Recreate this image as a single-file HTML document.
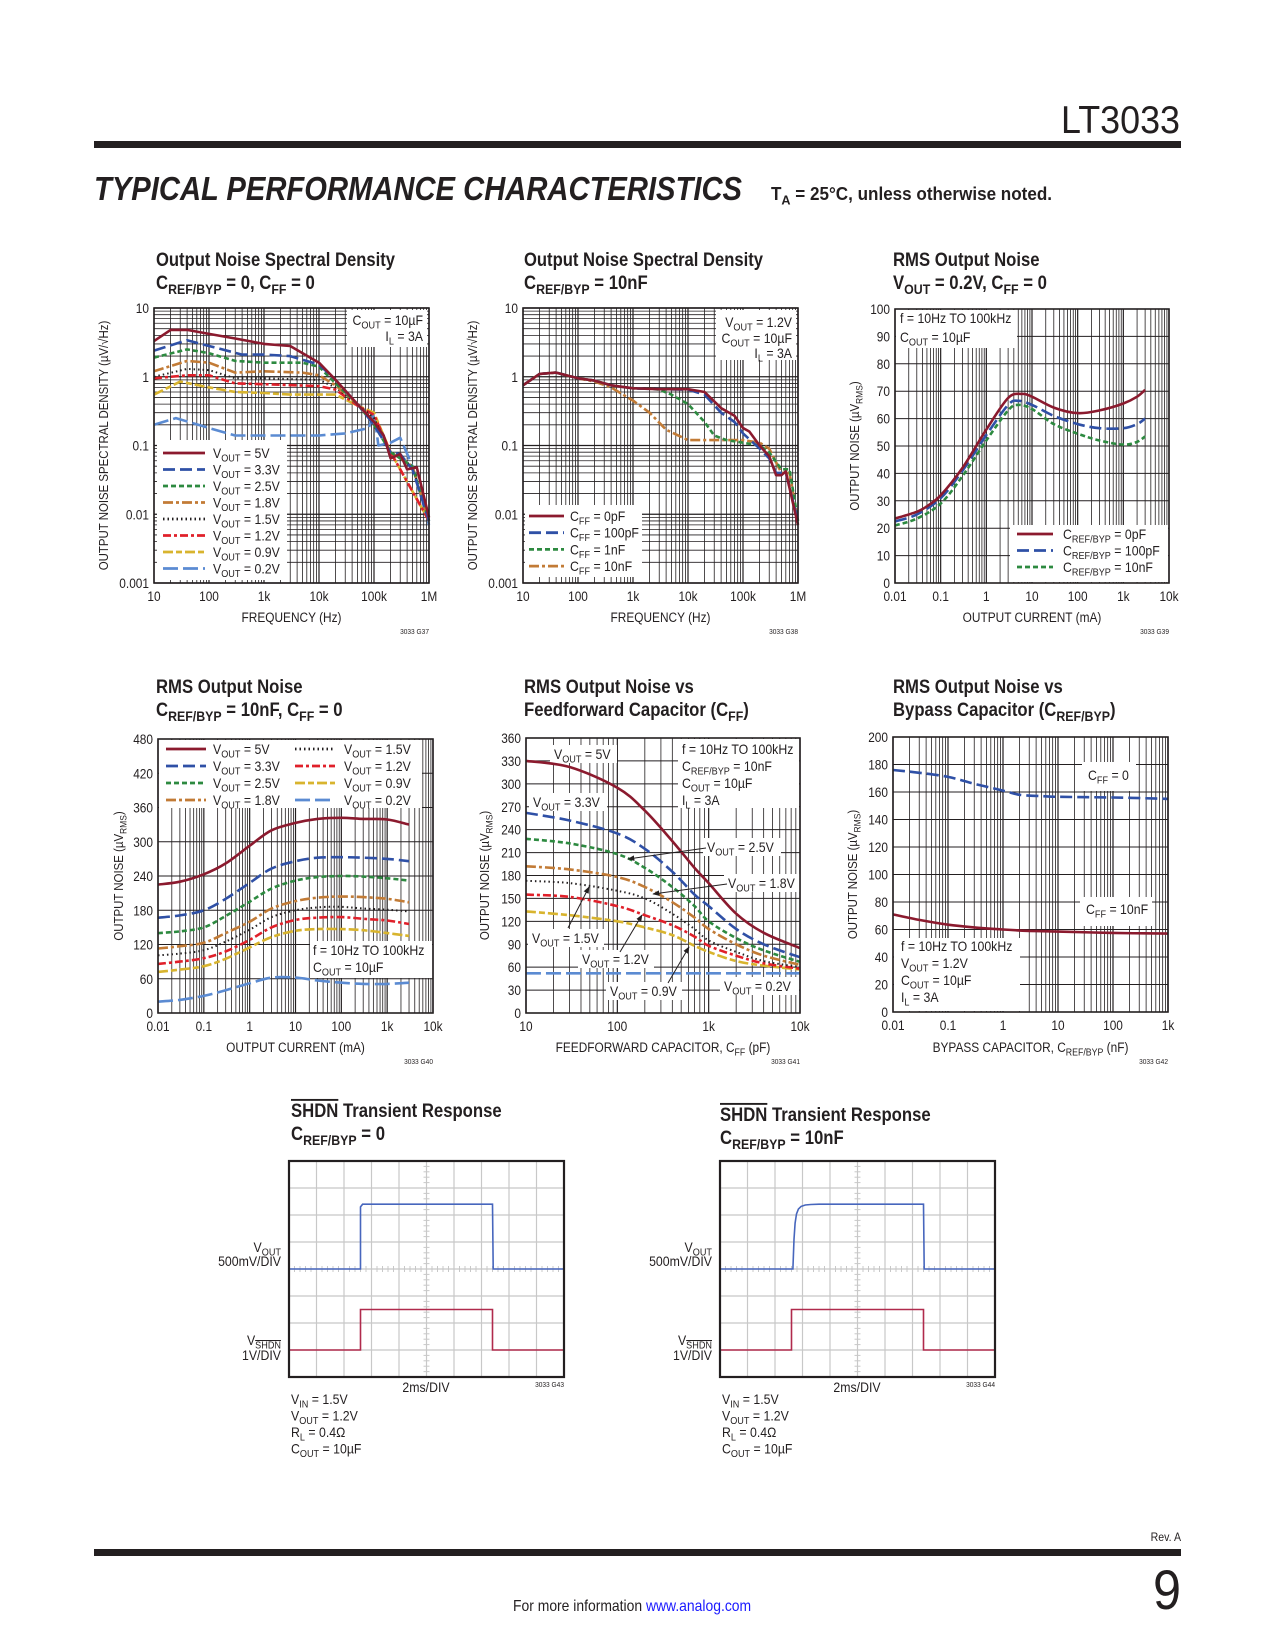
<!DOCTYPE html>
<html><head><meta charset="utf-8">
<style>
html,body{margin:0;padding:0;background:#fff;}
svg{display:block;}
</style></head>
<body>
<svg id="page" xmlns="http://www.w3.org/2000/svg" width="1275" height="1650" viewBox="0 0 1275 1650"></svg>
<script>
// ================= DATA =================
const c1Freq5 = [10,20,40,100,300,1000,3000,10000,20000,50000,100000,150000,200000,300000,400000,600000,1000000];
const c1Nsd5  = [3.3,4.8,4.8,4.2,3.6,3.0,2.8,1.6,0.9,0.4,0.22,0.14,0.065,0.075,0.045,0.048,0.009];
const c1Freq33 = [10,40,100,400,1000,3000,10000,20000,50000,100000,200000,300000,500000,1000000];
const c1Nsd33  = [2.4,3.4,2.8,2.1,2.1,2.0,1.5,0.9,0.4,0.2,0.08,0.075,0.045,0.008];
const c1Freq25 = [10,40,100,300,1000,5000,10000,20000,50000,100000,200000,500000,1000000];
const c1Nsd25  = [1.9,2.5,2.2,1.7,1.6,1.6,1.4,0.8,0.4,0.2,0.08,0.05,0.008];
const c1Freq18 = [10,40,100,300,1000,5000,10000,20000,50000,100000,200000,500000,1000000];
const c1Nsd18  = [1.2,1.7,1.6,1.15,1.2,1.15,1.05,0.75,0.4,0.22,0.08,0.05,0.008];
const c1Freq15 = [10,40,100,300,1000,10000,20000,50000,100000,200000,500000,1000000];
const c1Nsd15  = [1.0,1.3,1.25,0.95,0.95,0.9,0.7,0.4,0.25,0.08,0.05,0.008];
const c1Freq12 = [10,40,100,300,1000,10000,20000,50000,100000,200000,1000000];
const c1Nsd12  = [0.95,1.05,1.05,0.8,0.78,0.73,0.65,0.38,0.28,0.08,0.008];
const c1Freq09 = [10,30,100,300,1000,3000,10000,20000,50000,100000,200000,1000000];
const c1Nsd09  = [0.55,0.85,0.7,0.6,0.58,0.55,0.55,0.55,0.38,0.3,0.08,0.008];
const c1Freq02 = [10,25,100,300,1000,10000,30000,80000,100000,120000,200000,300000,500000,1000000];
const c1Nsd02  = [0.2,0.25,0.18,0.14,0.14,0.14,0.15,0.18,0.3,0.1,0.11,0.13,0.05,0.007];
const c1Legend = ['V_{OUT} = 5V','V_{OUT} = 3.3V','V_{OUT} = 2.5V','V_{OUT} = 1.8V','V_{OUT} = 1.5V','V_{OUT} = 1.2V','V_{OUT} = 0.9V','V_{OUT} = 0.2V'];

const c2Freq0 = [10,20,40,100,200,400,1000,3000,10000,20000,40000,70000,100000,130000,200000,300000,400000,500000,600000,800000,1000000];
const c2Nsd0  = [0.75,1.1,1.15,0.95,0.88,0.75,0.68,0.66,0.66,0.6,0.35,0.27,0.18,0.16,0.1,0.07,0.037,0.037,0.042,0.015,0.007];
const c2Freq100 = [10,20,40,100,200,400,1000,3000,10000,20000,40000,70000,100000,200000,300000,400000,600000,1000000];
const c2Nsd100  = [0.75,1.1,1.15,0.95,0.88,0.75,0.68,0.66,0.65,0.55,0.3,0.22,0.15,0.09,0.065,0.04,0.04,0.008];
const c2Freq1n = [10,20,40,100,200,400,1000,2000,3000,5000,10000,20000,30000,50000,100000,200000,300000,500000,700000,1000000];
const c2Nsd1n  = [0.75,1.1,1.15,0.95,0.88,0.75,0.68,0.67,0.65,0.55,0.4,0.22,0.14,0.12,0.11,0.1,0.08,0.045,0.045,0.008];
const c2Freq10n = [10,20,40,100,200,400,1000,2000,4000,10000,50000,100000,200000,300000,500000,700000,1000000];
const c2Nsd10n  = [0.75,1.1,1.15,0.95,0.85,0.7,0.45,0.3,0.17,0.12,0.12,0.12,0.11,0.09,0.04,0.04,0.008];
const c2Legend = ['C_{FF} = 0pF','C_{FF} = 100pF','C_{FF} = 1nF','C_{FF} = 10nF'];

const c3Cur0 = [0.01,0.03,0.05,0.1,0.3,1,3,6,10,30,100,300,1000,2000,3000];
const c3Rms0 = [23.5,26,28,32,42,56,67.5,69,68,64,62,63,65.5,68,70.5];
const c3Cur100 = [0.01,0.03,0.1,0.3,1,3,5,10,30,100,300,1000,2000,3000];
const c3Rms100 = [22.5,25,31,41,54,65,66.5,65,61,58,56.5,56.5,58,60];
const c3Cur10n = [0.01,0.03,0.1,0.3,1,3,5,10,30,100,300,1000,2000,3000];
const c3Rms10n = [21,23.5,29,39,52,63,65,63.5,58,54.5,52,50.5,51.5,53.5];
const c3Legend = ['C_{REF/BYP} = 0pF','C_{REF/BYP} = 100pF','C_{REF/BYP} = 10nF'];

const c4Cur = [0.01,0.03,0.1,0.3,1,3,10,30,100,300,1000,3000];
const c4Rms5  = [225,230,243,262,293,320,333,340,342,340,339,330];
const c4Rms33 = [167,171,180,200,228,253,266,272,273,272,270,266];
const c4Rms25 = [140,143,150,170,195,218,232,238,240,239,236,232];
const c4Rms18 = [113,117,123,140,160,183,196,202,204,203,200,194];
const c4Rms15 = [101,104,110,125,146,168,180,185,186,183,181,178];
const c4Rms12 = [86,90,96,108,128,150,163,167,168,165,162,156];
const c4Rms09 = [72,76,82,95,115,133,144,147,147,145,140,135];
const c4Rms02 = [20,23,30,40,52,62,62,57,53,51,51,53];
const c4Legend = ['V_{OUT} = 5V','V_{OUT} = 3.3V','V_{OUT} = 2.5V','V_{OUT} = 1.8V','V_{OUT} = 1.5V','V_{OUT} = 1.2V','V_{OUT} = 0.9V','V_{OUT} = 0.2V'];

const c5Cff = [10,30,100,200,400,700,1000,2000,4000,10000];
const c5Rms5  = [330,322,295,265,225,190,170,130,105,85];
const c5Rms33 = [262,252,235,215,185,155,140,110,90,73];
const c5Rms25 = [228,222,208,190,165,140,120,98,82,67];
const c5Rms18 = [192,188,178,165,145,125,110,90,75,63];
const c5Rms15 = [173,170,160,150,130,110,95,80,68,60];
const c5Rms12 = [155,152,140,128,115,100,88,75,65,58];
const c5Rms09 = [133,128,120,112,102,88,80,68,62,57];
const c5Rms02 = [52,52,52,52,52,52,52,52,52,52];

const c6Cbyp0 = [0.01,0.03,0.1,0.3,1,2,5,10,100,1000];
const c6RmsCff0 = [176,174,171,166,161,158,157,156.5,156,155];
const c6Cbyp10n = [0.01,0.03,0.1,0.3,1,3,10,100,1000];
const c6RmsCff10n = [71,67,63.5,61.5,60,59,58.5,57.5,57];

const s1VoutT = [0,5.2,5.2,5.35,14.8,14.85,20];
const s1VoutV = [0,0,1.15,1.2,1.2,0,0];
const s1ShdnT = [0,5.2,5.2,14.8,14.8,20];
const s1ShdnV = [0,0,1.5,1.5,0,0];
const s2VoutT = [0,5.3,5.38,5.46,5.56,5.7,5.9,6.2,6.6,7.2,14.8,14.85,20];
const s2VoutV = [0,0,0.55,0.85,1.02,1.11,1.16,1.185,1.195,1.2,1.2,0,0];
const s2ShdnT = [0,5.2,5.2,14.8,14.8,20];
const s2ShdnV = [0,0,1.5,1.5,0,0];

const decTicks1 = [10,100,1000,10000,100000,1000000];
const decLabels1 = ['10','100','1k','10k','100k','1M'];
const nsdTicks = [0.001,0.01,0.1,1,10];
const nsdLabels = ['0.001','0.01','0.1','1','10'];
const curTicks = [0.01,0.1,1,10,100,1000,10000];
const curLabels = ['0.01','0.1','1','10','100','1k','10k'];
const cffTicks = [10,100,1000,10000];
const cffLabels = ['10','100','1k','10k'];
const bypTicks = [0.01,0.1,1,10,100,1000];
const bypLabels = ['0.01','0.1','1','10','100','1k'];
const c3YTicks = [0,10,20,30,40,50,60,70,80,90,100];
const c4YTicks = [0,60,120,180,240,300,360,420,480];
const c5YTicks = [0,30,60,90,120,150,180,210,240,270,300,330,360];
const c6YTicks = [0,20,40,60,80,100,120,140,160,180,200];

// ================= DRAWING =================
const NS='http://www.w3.org/2000/svg';
const svg=document.getElementById('page');
const FN='"Liberation Sans Narrow","Liberation Sans",sans-serif';
const INK='#231f20';
function mk(tag,attrs,parent){const e=document.createElementNS(NS,tag);for(const k in attrs)e.setAttribute(k,attrs[k]);(parent||svg).appendChild(e);return e;}
function T(x,y,s,o,name){
  o=o||{};const fs=o.fs||14;
  const sc=(o.sc!==undefined)?o.sc:(o.len?1:0.88);
  const t=mk('text',{x:0,y:0,'font-size':fs,'text-anchor':o.anchor||'start',fill:o.fill||INK,'font-weight':o.bold?'bold':'normal','font-family':o.ff||FN});
  if(o.italic)t.setAttribute('font-style','italic');
  t.setAttribute('transform','translate('+x+' '+y+')'+(o.rot?' rotate(-90)':'')+' scale('+sc+' 1)');
  if(o.len){t.setAttribute('textLength',o.len);t.setAttribute('lengthAdjust','spacingAndGlyphs');}
  const parts=s.split(/(_~\{[^}]*\}|_\{[^}]*\}|~\{[^}]*\})/);let cur=0;
  parts.forEach(p=>{if(!p)return;const ts=mk('tspan',{},t);
    if(p.startsWith('_')){const ov=p.startsWith('_~');ts.textContent=p.slice(ov?3:2,-1);if(ov)ts.setAttribute('text-decoration','overline');ts.setAttribute('font-size',fs*0.74);const sh=fs*0.25;if(cur!==sh){ts.setAttribute('dy',sh-cur);cur=sh;}}
    else if(p.startsWith('~{')){ts.textContent=p.slice(2,-1);ts.setAttribute('text-decoration','overline');if(cur){ts.setAttribute('dy',-cur);cur=0;}}
    else{ts.textContent=p;if(cur){ts.setAttribute('dy',-cur);cur=0;}}
  });
  
  
  return t;
}
function logS(min,max,p0,p1){const a=Math.log10(min),b=Math.log10(max);return v=>p0+(Math.log10(v)-a)/(b-a)*(p1-p0);}
function linS(min,max,p0,p1){return v=>p0+(v-min)/(max-min)*(p1-p0);}
function logVals(min,max){const r=[];for(let d=min;d<max*1.0001;d*=10){for(let k=1;k<=9;k++){const v=d*k;if(v>max*1.0001)break;r.push({v:v,major:k===1});}}return r;}
function box(x,y,w,h,name){const r=mk('rect',{x:x,y:y,width:w,height:h,fill:'#fff'});return r;}
function curve(pts,smooth){
  if(!smooth||pts.length<3)return 'M'+pts.map(p=>p[0].toFixed(1)+','+p[1].toFixed(1)).join('L');
  let d='M'+pts[0][0].toFixed(1)+','+pts[0][1].toFixed(1);
  for(let i=0;i<pts.length-1;i++){const p0=pts[i-1]||pts[i],p1=pts[i],p2=pts[i+1],p3=pts[i+2]||p2;
    const c1=[p1[0]+(p2[0]-p0[0])/6,p1[1]+(p2[1]-p0[1])/6],c2=[p2[0]-(p3[0]-p1[0])/6,p2[1]-(p3[1]-p1[1])/6];
    d+='C'+c1.map(v=>v.toFixed(1))+' '+c2.map(v=>v.toFixed(1))+' '+p2.map(v=>v.toFixed(1));}
  return d;
}
const ST={
 v5:{c:'#8b1a2e',d:''}, v33:{c:'#2f50a6',d:'12,5'}, v25:{c:'#2d8a40',d:'5,3'}, v18:{c:'#c27b36',d:'10,3,3,3'},
 v15:{c:'#231f20',d:'1.5,3'}, v12:{c:'#e0202a',d:'8,3,3,3'}, v09:{c:'#d8b42e',d:'10,3,6,3'}, v02:{c:'#5b8bd2',d:'15,5'}
};
function chart(cfg){
  const g=mk('g',{});
  
  
  const sx=cfg.xlog?logS(cfg.xmin,cfg.xmax,cfg.x0,cfg.x1):linS(cfg.xmin,cfg.xmax,cfg.x0,cfg.x1);
  const sy=cfg.ylog?logS(cfg.ymin,cfg.ymax,cfg.y1,cfg.y0):linS(cfg.ymin,cfg.ymax,cfg.y1,cfg.y0);
  const grid=mk('g',{stroke:INK},g);
  
  
  logVals(cfg.xmin,cfg.xmax).forEach(o=>{const x=sx(o.v);mk('line',{x1:x,x2:x,y1:cfg.y0,y2:cfg.y1,'stroke-width':o.major?1.2:0.8},grid);});
  if(cfg.ylog){logVals(cfg.ymin,cfg.ymax).forEach(o=>{const y=sy(o.v);mk('line',{x1:cfg.x0,x2:cfg.x1,y1:y,y2:y,'stroke-width':o.major?1.2:0.8},grid);});}
  else{cfg.yticks.forEach(v=>{const y=sy(v);mk('line',{x1:cfg.x0,x2:cfg.x1,y1:y,y2:y,'stroke-width':1},grid);});}
  cfg.xticks.forEach((v,i)=>{T(sx(v),cfg.y1+18,cfg.xlabels[i],{fs:13.5,anchor:'middle'},'x-tick-label');});
  cfg.yticks.forEach((v,i)=>{T(cfg.x0-5,sy(v)+5,cfg.ylabels?cfg.ylabels[i]:String(v),{fs:13.5,anchor:'end'},'y-tick-label');});
  T((cfg.x0+cfg.x1)/2,cfg.xtY,cfg.xtitle,{fs:13.5,anchor:'middle'},'x-axis-title');
  T(cfg.ytX,(cfg.y0+cfg.y1)/2,cfg.ytitle,{fs:13,anchor:'middle',rot:true},'y-axis-title');
  T(cfg.x1,cfg.xtY+12,cfg.code,{fs:7.5,anchor:'end'},'figure-code');
  (cfg.boxes||[]).forEach(b=>box(b[0],b[1],b[2],b[3],'label-background'));
  (cfg.series||[]).forEach(s=>{
    const pts=s.x.map((v,i)=>[sx(v),sy(s.y[i])]);
    const p=mk('path',{d:curve(pts,cfg.smooth),fill:'none',stroke:s.st.c,'stroke-width':s.w||2.6,'stroke-dasharray':s.st.d,'stroke-linejoin':'round'});
    
    
  });
  const fr=mk('rect',{x:cfg.x0,y:cfg.y0,width:cfg.x1-cfg.x0,height:cfg.y1-cfg.y0,fill:'none',stroke:INK,'stroke-width':1.6});
  
  
  return {sx:sx,sy:sy};
}
function legendLine(x1,x2,y,st,name){const l=mk('line',{x1:x1,x2:x2,y1:y,y2:y,stroke:st.c,'stroke-width':2.8,'stroke-dasharray':st.d});}

// ---------- Header ----------
T(1180,133,'LT3033',{fs:39,anchor:'end',sc:0.92,ff:'"Liberation Sans",sans-serif'},'part-number');
const hl=mk('rect',{x:94,y:141,width:1087,height:7,fill:INK});


T(94,200,'TYPICAL PERFORMANCE CHARACTERISTICS',{fs:33,bold:true,italic:true,len:648,ff:'"Liberation Sans",sans-serif'},'section-title');
T(771,200,'T_{A} = 25°C, unless otherwise noted.',{fs:18,bold:true,len:281},'section-conditions');

// ---------- Chart titles ----------
T(156,266,'Output Noise Spectral Density',{fs:19,bold:true,len:239},'chart-title');
T(156,289,'C_{REF/BYP} = 0, C_{FF} = 0',{fs:19,bold:true},'chart-subtitle');
T(524,266,'Output Noise Spectral Density',{fs:19,bold:true,len:239},'chart-title');
T(524,289,'C_{REF/BYP} = 10nF',{fs:19,bold:true},'chart-subtitle');
T(893,266,'RMS Output Noise',{fs:19,bold:true},'chart-title');
T(893,289,'V_{OUT} = 0.2V, C_{FF} = 0',{fs:19,bold:true},'chart-subtitle');
T(156,693,'RMS Output Noise',{fs:19,bold:true},'chart-title');
T(156,716,'C_{REF/BYP} = 10nF, C_{FF} = 0',{fs:19,bold:true},'chart-subtitle');
T(524,693,'RMS Output Noise vs',{fs:19,bold:true},'chart-title');
T(524,716,'Feedforward Capacitor (C_{FF})',{fs:19,bold:true},'chart-subtitle');
T(893,693,'RMS Output Noise vs',{fs:19,bold:true},'chart-title');
T(893,716,'Bypass Capacitor (C_{REF/BYP})',{fs:19,bold:true},'chart-subtitle');

// ---------- Chart 1 ----------
const nsdTitle='OUTPUT NOISE SPECTRAL DENSITY (µV/√Hz)';
chart({name:'chart-nsd-cref0',x0:154,x1:429,y0:308,y1:583,xlog:true,xmin:10,xmax:1e6,ylog:true,ymin:0.001,ymax:10,
  xticks:decTicks1,xlabels:decLabels1,yticks:nsdTicks,ylabels:nsdLabels,xtitle:'FREQUENCY (Hz)',xtY:622,ytitle:nsdTitle,ytX:108,code:'3033 G37',
  boxes:[[157,440,130,140],[347,310,80,37]],
  series:[
   {x:c1Freq02,y:c1Nsd02,st:ST.v02,name:'series-vout-0.2v'},
   {x:c1Freq09,y:c1Nsd09,st:ST.v09,name:'series-vout-0.9v'},
   {x:c1Freq12,y:c1Nsd12,st:ST.v12,name:'series-vout-1.2v'},
   {x:c1Freq15,y:c1Nsd15,st:ST.v15,name:'series-vout-1.5v',w:2},
   {x:c1Freq18,y:c1Nsd18,st:ST.v18,name:'series-vout-1.8v'},
   {x:c1Freq25,y:c1Nsd25,st:ST.v25,name:'series-vout-2.5v'},
   {x:c1Freq33,y:c1Nsd33,st:ST.v33,name:'series-vout-3.3v'},
   {x:c1Freq5,y:c1Nsd5,st:ST.v5,name:'series-vout-5v'}]});
[ST.v5,ST.v33,ST.v25,ST.v18,ST.v15,ST.v12,ST.v09,ST.v02].forEach((st,i)=>{
  const y=458+i*16.5;
  legendLine(163,205,y-5,st,'legend-swatch');
  T(213,y,c1Legend[i],{fs:14},'legend-entry');
});
T(423,325,'C_{OUT} = 10µF',{fs:14,anchor:'end'},'condition-label');
T(423,341,'I_{L} = 3A',{fs:14,anchor:'end'},'condition-label');

// ---------- Chart 2 ----------
chart({name:'chart-nsd-cref10n',x0:523,x1:798,y0:308,y1:583,xlog:true,xmin:10,xmax:1e6,ylog:true,ymin:0.001,ymax:10,
  xticks:decTicks1,xlabels:decLabels1,yticks:nsdTicks,ylabels:nsdLabels,xtitle:'FREQUENCY (Hz)',xtY:622,ytitle:nsdTitle,ytX:477,code:'3033 G38',
  boxes:[[525,505,117,72],[716,310,80,50]],
  series:[
   {x:c2Freq10n,y:c2Nsd10n,st:ST.v18,name:'series-cff-10nf'},
   {x:c2Freq1n,y:c2Nsd1n,st:ST.v25,name:'series-cff-1nf'},
   {x:c2Freq100,y:c2Nsd100,st:ST.v33,name:'series-cff-100pf'},
   {x:c2Freq0,y:c2Nsd0,st:ST.v5,name:'series-cff-0pf'}]});
[ST.v5,ST.v33,ST.v25,ST.v18].forEach((st,i)=>{
  const y=521+i*16.7;
  legendLine(529,564,y-5,st,'legend-swatch');
  T(570,y,c2Legend[i],{fs:14},'legend-entry');
});
T(792,327,'V_{OUT} = 1.2V',{fs:14,anchor:'end'},'condition-label');
T(792,343,'C_{OUT} = 10µF',{fs:14,anchor:'end'},'condition-label');
T(792,358,'I_{L} = 3A',{fs:14,anchor:'end'},'condition-label');

// ---------- Chart 3 ----------
const rmsTitle='OUTPUT NOISE (µV_{RMS})';
chart({name:'chart-rms-vs-current-0v2',smooth:true,x0:895,x1:1169,y0:309,y1:583,xlog:true,xmin:0.01,xmax:10000,ylog:false,ymin:0,ymax:100,
  xticks:curTicks,xlabels:curLabels,yticks:c3YTicks,xtitle:'OUTPUT CURRENT (mA)',xtY:622,ytitle:rmsTitle,ytX:859,code:'3033 G39',
  boxes:[[896,310,121,38],[1010,525,158,57]],
  series:[
   {x:c3Cur10n,y:c3Rms10n,st:ST.v25,name:'series-cref-10nf'},
   {x:c3Cur100,y:c3Rms100,st:ST.v33,name:'series-cref-100pf'},
   {x:c3Cur0,y:c3Rms0,st:ST.v5,name:'series-cref-0pf'}]});
[ST.v5,ST.v33,ST.v25].forEach((st,i)=>{
  const y=539+i*16.5;
  legendLine(1017,1053,y-5,st,'legend-swatch');
  T(1063,y,c3Legend[i],{fs:14},'legend-entry');
});
T(900,323,'f = 10Hz TO 100kHz',{fs:14},'condition-label');
T(900,342,'C_{OUT} = 10µF',{fs:14},'condition-label');

// ---------- Chart 4 ----------
chart({name:'chart-rms-vs-current-cref10n',smooth:true,x0:158,x1:433,y0:739,y1:1013,xlog:true,xmin:0.01,xmax:10000,ylog:false,ymin:0,ymax:480,
  xticks:curTicks,xlabels:curLabels,yticks:c4YTicks,xtitle:'OUTPUT CURRENT (mA)',xtY:1052,ytitle:rmsTitle,ytX:123,code:'3033 G40',
  boxes:[[159,740,263,68],[310,941,122,37]],
  series:[
   {x:c4Cur,y:c4Rms02,st:ST.v02,name:'series-vout-0.2v'},
   {x:c4Cur,y:c4Rms09,st:ST.v09,name:'series-vout-0.9v'},
   {x:c4Cur,y:c4Rms12,st:ST.v12,name:'series-vout-1.2v'},
   {x:c4Cur,y:c4Rms15,st:ST.v15,name:'series-vout-1.5v',w:2},
   {x:c4Cur,y:c4Rms18,st:ST.v18,name:'series-vout-1.8v'},
   {x:c4Cur,y:c4Rms25,st:ST.v25,name:'series-vout-2.5v'},
   {x:c4Cur,y:c4Rms33,st:ST.v33,name:'series-vout-3.3v'},
   {x:c4Cur,y:c4Rms5,st:ST.v5,name:'series-vout-5v'}]});
[ST.v5,ST.v33,ST.v25,ST.v18,ST.v15,ST.v12,ST.v09,ST.v02].forEach((st,i)=>{
  const col=i<4?0:1,row=i%4,y=754+row*17;
  const xs=col?295:166,xt=col?344:213;
  legendLine(xs,xs+40,y-5,st,'legend-swatch');
  T(xt,y,c4Legend[i],{fs:14},'legend-entry');
});
T(313,955,'f = 10Hz TO 100kHz',{fs:14},'condition-label');
T(313,972,'C_{OUT} = 10µF',{fs:14},'condition-label');

// ---------- Chart 5 ----------
chart({name:'chart-rms-vs-cff',smooth:true,x0:526,x1:800,y0:738,y1:1013,xlog:true,xmin:10,xmax:10000,ylog:false,ymin:0,ymax:360,
  xticks:cffTicks,xlabels:cffLabels,yticks:c5YTicks,xtitle:'FEEDFORWARD CAPACITOR, C_{FF} (pF)',xtY:1052,ytitle:rmsTitle,ytX:489,code:'3033 G41',
  boxes:[[678,739,121,69],[550,745,67,18],[529,793,78,18],[703,838,78,18],[724,874,76,18],[528,929,76,18],[578,950,76,18],[606,982,76,18],[720,977,79,18]],
  series:[
   {x:c5Cff,y:c5Rms02,st:ST.v02,name:'series-vout-0.2v'},
   {x:c5Cff,y:c5Rms09,st:ST.v09,name:'series-vout-0.9v'},
   {x:c5Cff,y:c5Rms12,st:ST.v12,name:'series-vout-1.2v'},
   {x:c5Cff,y:c5Rms15,st:ST.v15,name:'series-vout-1.5v',w:2},
   {x:c5Cff,y:c5Rms18,st:ST.v18,name:'series-vout-1.8v'},
   {x:c5Cff,y:c5Rms25,st:ST.v25,name:'series-vout-2.5v'},
   {x:c5Cff,y:c5Rms33,st:ST.v33,name:'series-vout-3.3v'},
   {x:c5Cff,y:c5Rms5,st:ST.v5,name:'series-vout-5v'}]});
T(682,754,'f = 10Hz TO 100kHz',{fs:14},'condition-label');
T(682,771,'C_{REF/BYP} = 10nF',{fs:14},'condition-label');
T(682,788,'C_{OUT} = 10µF',{fs:14},'condition-label');
T(682,805,'I_{L} = 3A',{fs:14},'condition-label');
T(554,759,'V_{OUT} = 5V',{fs:14},'series-label');
T(533,807,'V_{OUT} = 3.3V',{fs:14},'series-label');
T(707,852,'V_{OUT} = 2.5V',{fs:14},'series-label');
T(728,888,'V_{OUT} = 1.8V',{fs:14},'series-label');
T(532,943,'V_{OUT} = 1.5V',{fs:14},'series-label');
T(582,964,'V_{OUT} = 1.2V',{fs:14},'series-label');
T(610,996,'V_{OUT} = 0.9V',{fs:14},'series-label');
T(724,991,'V_{OUT} = 0.2V',{fs:14},'series-label');
mk('defs',{}).innerHTML='<marker id="ah" viewBox="0 0 10 10" refX="9" refY="5" markerWidth="7" markerHeight="7" orient="auto"><path d="M0,1L10,5L0,9z" fill="#231f20"/></marker>';
[[706,848,628,859],[727,884,653,894],[568,928,589,887],[620,952,642,915],[668,983,689,947]].forEach(a=>{
  const l=mk('line',{x1:a[0],y1:a[1],x2:a[2],y2:a[3],stroke:INK,'stroke-width':1,'marker-end':'url(#ah)'});
  
  
});

// ---------- Chart 6 ----------
chart({name:'chart-rms-vs-cbyp',smooth:true,x0:893,x1:1168,y0:737,y1:1012,xlog:true,xmin:0.01,xmax:1000,ylog:false,ymin:0,ymax:200,
  xticks:bypTicks,xlabels:bypLabels,yticks:c6YTicks,xtitle:'BYPASS CAPACITOR, C_{REF/BYP} (nF)',xtY:1052,ytitle:rmsTitle,ytX:857,code:'3033 G42',
  boxes:[[1082,762,54,29],[1080,897,72,29],[894,938,126,73]],
  series:[
   {x:c6Cbyp0,y:c6RmsCff0,st:ST.v33,name:'series-cff-0'},
   {x:c6Cbyp10n,y:c6RmsCff10n,st:ST.v5,name:'series-cff-10nf'}]});
T(1088,780,'C_{FF} = 0',{fs:14},'series-label');
T(1086,914,'C_{FF} = 10nF',{fs:14},'series-label');
T(901,951,'f = 10Hz TO 100kHz',{fs:14},'condition-label');
T(901,968,'V_{OUT} = 1.2V',{fs:14},'condition-label');
T(901,985,'C_{OUT} = 10µF',{fs:14},'condition-label');
T(901,1002,'I_{L} = 3A',{fs:14},'condition-label');

// ---------- Scopes ----------
function scope(x0,y0,tx,ty,sub,code,vT,vV,sT,sV,name){
  const x1=x0+275,y1=y0+216,dx=27.5,dy=27;
  const g=mk('g',{});
  
  
  T(tx,ty,'~{SHDN} Transient Response',{fs:19,bold:true},'chart-title');
  T(tx,ty+23,sub,{fs:19,bold:true},'chart-subtitle');
  for(let i=1;i<10;i++)mk('line',{x1:x0+i*dx,x2:x0+i*dx,y1:y0,y2:y1,stroke:'#c8c8c8','stroke-width':1.2},g);
  for(let j=1;j<8;j++)mk('line',{x1:x0,x2:x1,y1:y0+j*dy,y2:y0+j*dy,stroke:'#c8c8c8','stroke-width':1.2},g);
  for(let k=1;k<50;k++){const x=x0+k*dx/5;mk('line',{x1:x,x2:x,y1:y0+4*dy-3,y2:y0+4*dy+3,stroke:'#c8c8c8','stroke-width':1},g);}
  for(let k=1;k<40;k++){const y=y0+k*dy/5;mk('line',{x1:x0+5*dx-3,x2:x0+5*dx+3,y1:y,y2:y,stroke:'#c8c8c8','stroke-width':1},g);}
  const tS=linS(0,20,x0,x1);
  const vS=linS(0,2.0,y0+4*dy,y0);
  const sS=linS(0,8,y0+7*dy,y0-dy);
  const pv=mk('path',{d:curve(vT.map((t,i)=>[tS(t),vS(vV[i])]),false),fill:'none',stroke:'#4766bd','stroke-width':1.6});
  
  
  const ps=mk('path',{d:curve(sT.map((t,i)=>[tS(t),sS(sV[i])]),false),fill:'none',stroke:'#b02a4c','stroke-width':1.6});
  
  
  const fr=mk('rect',{x:x0,y:y0,width:275,height:216,fill:'none',stroke:INK,'stroke-width':2.2});
  
  
  T(x0-8,y0+91,'V_{OUT}',{fs:14,anchor:'end'},'channel-label');
  T(x0-8,y0+105,'500mV/DIV',{fs:14,anchor:'end'},'channel-scale');
  T(x0-8,y0+184,'V_~{SHDN}',{fs:14,anchor:'end'},'channel-label');
  T(x0-8,y0+199,'1V/DIV',{fs:14,anchor:'end'},'channel-scale');
  T(x0+137,y1+15,'2ms/DIV',{fs:14,anchor:'middle'},'time-scale');
  T(x1,y1+10,code,{fs:7.5,anchor:'end'},'figure-code');
  ['V_{IN} = 1.5V','V_{OUT} = 1.2V','R_{L} = 0.4Ω','C_{OUT} = 10µF'].forEach((s,i)=>T(x0+2,y1+27+i*16.5,s,{fs:14},'condition-label'));
}
scope(289,1161,291,1117,'C_{REF/BYP} = 0','3033 G43',s1VoutT,s1VoutV,s1ShdnT,s1ShdnV,'scope-shdn-cref0');
scope(720,1161,720,1121,'C_{REF/BYP} = 10nF','3033 G44',s2VoutT,s2VoutV,s2ShdnT,s2ShdnV,'scope-shdn-cref10n');

// ---------- Footer ----------
T(1181,1541,'Rev. A',{fs:12,anchor:'end'},'revision');
const fl=mk('rect',{x:94,y:1549,width:1087,height:7,fill:INK});


T(1181,1609,'9',{fs:56,anchor:'end',sc:0.9,ff:'"Liberation Sans",sans-serif'},'page-number');
const ft=T(513,1611,'For more information ',{fs:16,sc:0.87},'footer-text');
const a=mk('tspan',{fill:'#1a1aff'},ft);
a.textContent='www.analog.com';


</script>
</body></html>
